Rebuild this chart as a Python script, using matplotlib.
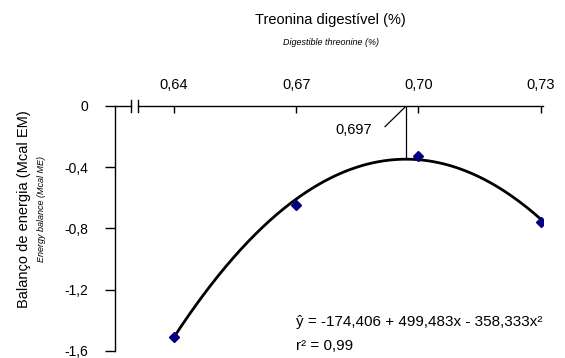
import numpy as np
import matplotlib
matplotlib.use("Agg")
import matplotlib.pyplot as plt

plt.rcParams['font.family'] = ['Liberation Sans', 'DejaVu Sans']

# dados observados
treonina = [0.64, 0.67, 0.70, 0.73]
balanco = [-1.51, -0.65, -0.33, -0.76]

# coeficientes da regressão quadrática
b0, b1, b2 = -174.406, 499.483, -358.333
x_otimo = 0.697

x_ticks = [0.64, 0.67, 0.70, 0.73]
x_ticklabels = ["0,64", "0,67", "0,70", "0,73"]
y_ticks = [0, -0.4, -0.8, -1.2, -1.6]
y_ticklabels = ["0", "-0,4", "-0,8", "-1,2", "-1,6"]

fig = plt.figure(figsize=(5.65, 3.58), dpi=100)
ax = fig.add_axes([0.2035, 0.02, 0.757, 0.684])

xs = np.linspace(treonina[0], treonina[-1], 200)
ax.plot(xs, b0 + b1 * xs + b2 * xs ** 2, color="black", lw=2, zorder=2)
ax.plot(treonina, balanco, "D", color="#000080", ms=5, zorder=3)

# linha do ponto ótimo
y_otimo = b0 + b1 * x_otimo + b2 * x_otimo ** 2
ax.plot([x_otimo, x_otimo], [0, y_otimo], color="black", lw=0.9)
ax.plot([x_otimo, x_otimo - 0.0052], [0, -0.135], color="black", lw=0.9)
ax.text(x_otimo - 0.0083, -0.16, "0,697", ha="right", va="center", fontsize=10.5)

ax.set_xlim(0.6255, 0.7305)
ax.set_ylim(-1.6, 0)

ax.xaxis.tick_top()
ax.set_xticks(x_ticks)
ax.set_xticklabels(x_ticklabels, fontsize=10.5)
ax.tick_params(axis="x", direction="in", length=5, width=1, pad=10)
ax.set_yticks(y_ticks)
ax.set_yticklabels(y_ticklabels, fontsize=10)
ax.tick_params(axis="y", direction="out", length=7, width=1, pad=12)

for s in ["top", "right", "bottom"]:
    ax.spines[s].set_visible(False)
ax.spines["left"].set_linewidth(1)

# eixo superior com quebra
tr = ax.transAxes
ax.plot([0, 0.038], [1, 1], color="black", lw=1, transform=tr, clip_on=False)
ax.plot([0.054, 1], [1, 1], color="black", lw=1, transform=tr, clip_on=False)
for xb in [0.038, 0.054]:
    ax.plot([xb, xb], [0.975, 1.025], color="black", lw=1, transform=tr, clip_on=False)

fig.text(0.585, 0.945, "Treonina digestível (%)", ha="center", va="center", fontsize=10.5)
fig.text(0.585, 0.882, "Digestible threonine (%)", ha="center", va="center",
         fontsize=6.5, style="italic")
fig.text(0.043, 0.415, "Balanço de energia (Mcal EM)", rotation=90,
         ha="center", va="center", fontsize=10.5)
fig.text(0.074, 0.415, "Energy balance (Mcal ME)", rotation=90,
         ha="center", va="center", fontsize=6.5, style="italic")

ax.text(0.67, -1.41, "ŷ = -174,406 + 499,483x - 358,333x²", fontsize=11, ha="left", va="center")
ax.text(0.67, -1.57, "r² = 0,99", fontsize=11, ha="left", va="center")

fig.savefig("out.png", dpi=100)
